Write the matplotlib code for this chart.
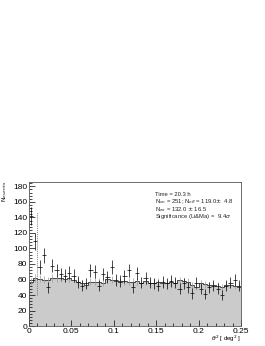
import numpy as np
from matplotlib import pyplot as plt

plt.rcParams['font.family'] = ['Liberation Sans', 'DejaVu Sans']

# theta^2 bins: 50 bins from 0 to 0.25
bin_edges = np.linspace(0, 0.25, 51)

n_on = [142, 109, 76, 91, 50, 78, 72, 67, 65, 69,
        65, 57, 52, 55, 72, 70, 52, 67, 63, 76,
        60, 58, 64, 72, 50, 68, 56, 62, 56, 55,
        52, 57, 55, 58, 56, 48, 55, 50, 42, 56,
        48, 41, 50, 52, 48, 40, 52, 56, 60, 52]

n_off = [57, 62, 61, 60, 59, 62, 62, 62, 61, 62,
         60, 57, 55, 53, 57, 57, 57, 56, 61, 60,
         58, 57, 58, 57, 57, 58, 55, 58, 56, 56,
         57, 55, 55, 57, 56, 59, 58, 57, 53, 51,
         55, 54, 53, 53, 52, 50, 53, 53, 52, 51]

theta2_cut = 0.01

stats_lines = ["Time = 20.3 h",
               "N$_{on}$ = 251; N$_{off}$ = 119.0$\\pm$  4.8",
               "N$_{ex}$ = 132.0 $\\pm$ 16.5",
               "Significance (Li&Ma) =  9.4$\\sigma$"]

centers = 0.5 * (bin_edges[1:] + bin_edges[:-1])
on = np.array(n_on, dtype=float)
off = np.array(n_off, dtype=float)

fig = plt.figure(figsize=(2.65, 3.46), dpi=100)
ax = fig.add_axes([0.1094, 0.0575, 0.8, 0.4174])

# off histogram, filled gray
ax.stairs(off, bin_edges, fill=True, color='#cbcbcb', lw=0)
ax.stairs(off, bin_edges, color='#333333', lw=0.6)
ax.errorbar(centers, off, yerr=np.sqrt(off) * 0.6, fmt='none',
            ecolor='#999999', elinewidth=0.5)

# on events
ax.errorbar(centers, on, xerr=0.0025, yerr=np.sqrt(on), fmt='none',
            ecolor='black', elinewidth=0.5)

# signal region cut
ax.plot([theta2_cut, theta2_cut], [40, 147], ls=(0, (1.5, 1.5)),
        color='#555555', lw=0.5)

ax.set_xlim(0, 0.25)
ax.set_ylim(0, 186)
ax.set_xticks([0, 0.05, 0.1, 0.15, 0.2, 0.25])
ax.set_xticklabels(['0', '0.05', '0.1', '0.15', '0.2', '0.25'])
ax.set_yticks(np.arange(0, 181, 20))
ax.set_xticks(np.arange(0, 0.2501, 0.01), minor=True)
ax.set_yticks(np.arange(0, 186, 4), minor=True)
ax.tick_params(direction='in', labelsize=6, length=4, width=0.5, pad=1.2)
ax.tick_params(which='minor', direction='in', length=2, width=0.5)
for s in ax.spines.values():
    s.set_linewidth(0.6)
    s.set_color('#555555')

for i, line in enumerate(stats_lines):
    fig.text(155 / 265, 1 - (194 + i * 7.6) / 346, line, fontsize=4.2,
             va='center', ha='left', color='#222222')

fig.text(5 / 265, 1 - 181 / 346, 'N$_{events}$', rotation=90, fontsize=4.5,
         va='top', ha='center')
fig.text(241 / 265, 1.5 / 346, '$\\theta^2$ [ deg$^2$ ]', fontsize=4.4,
         va='bottom', ha='right')

fig.savefig('out.png', dpi=100, facecolor='white')
